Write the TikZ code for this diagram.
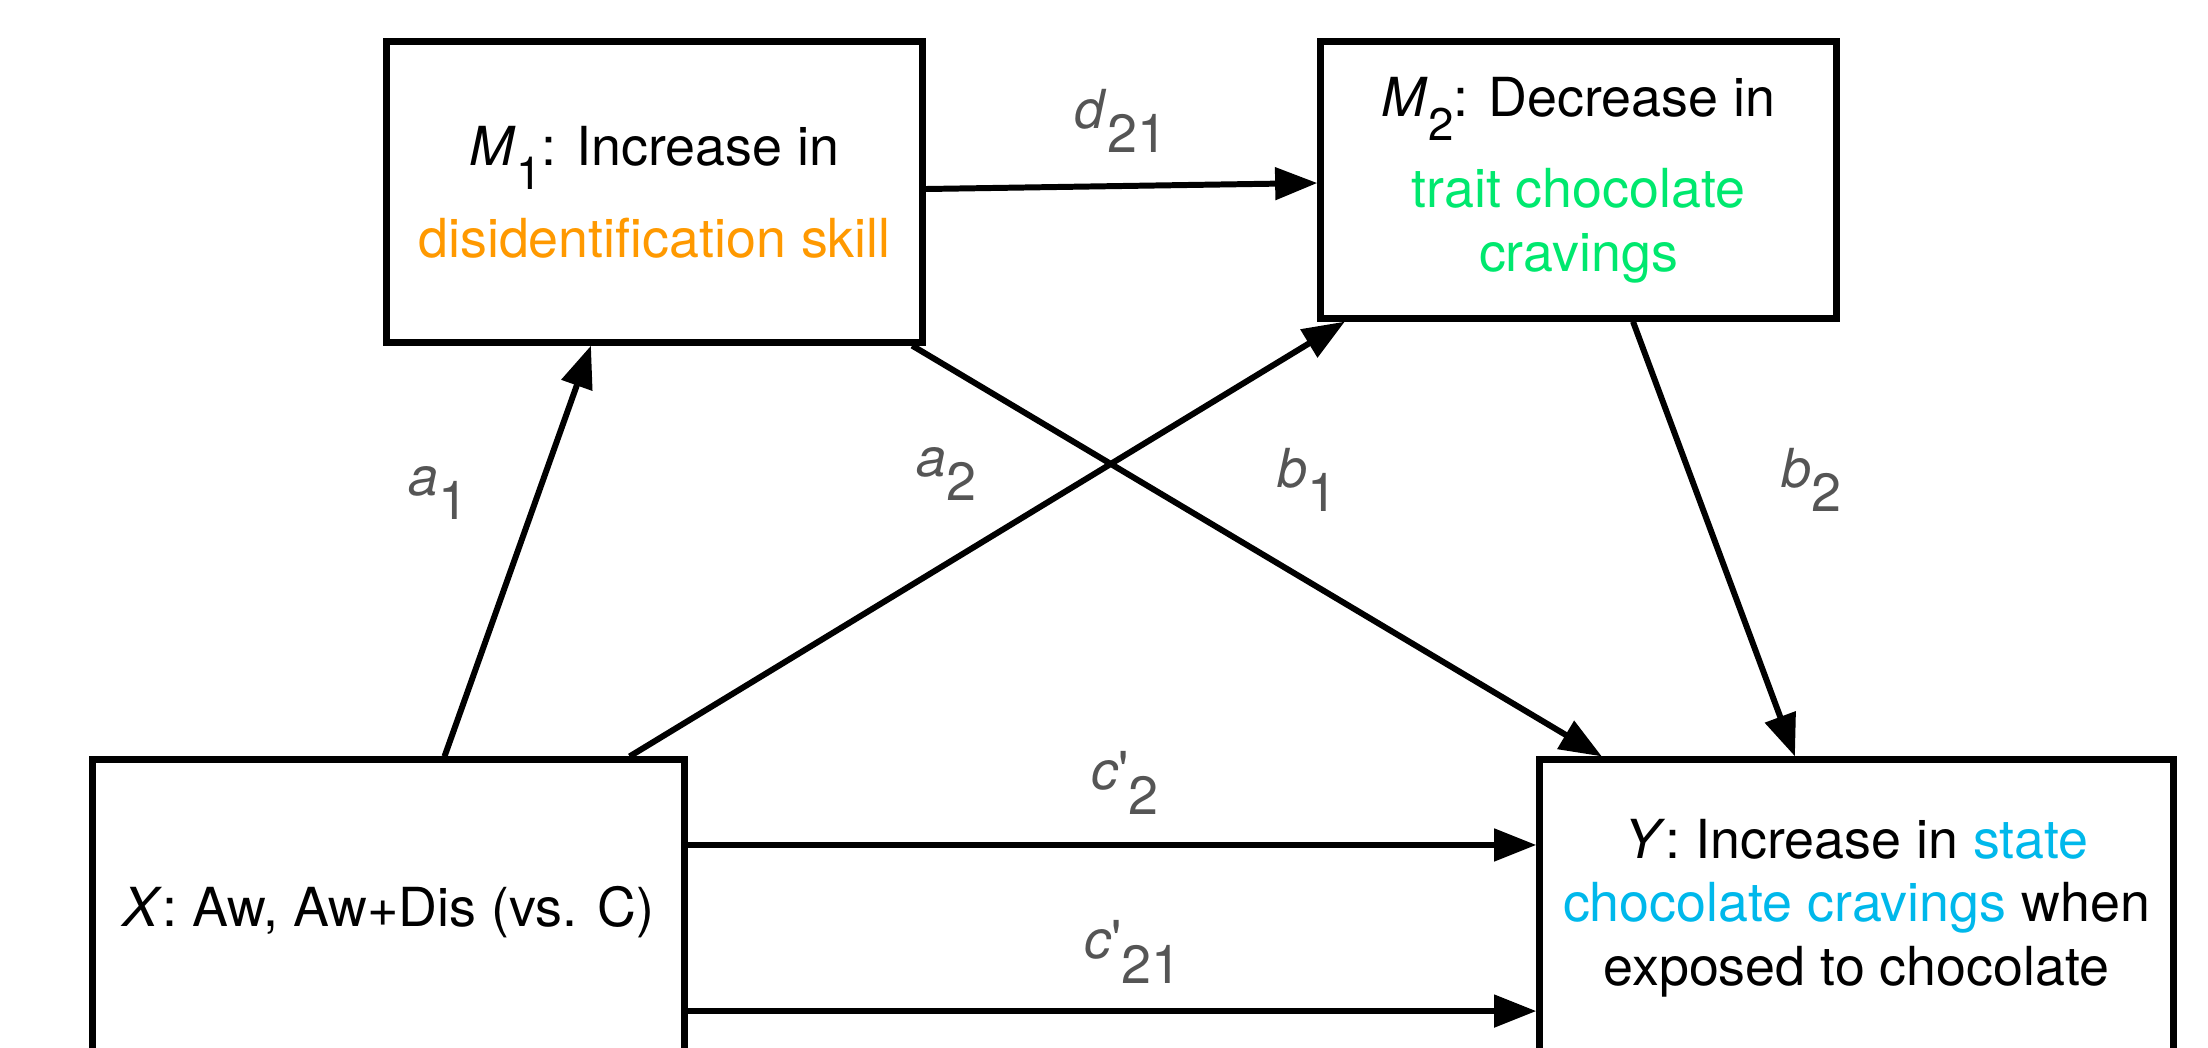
\documentclass[tikz,border=0pt]{standalone}
\usepackage{fontspec}
\setmainfont{TeX Gyre Heros}
\usepackage{xcolor}
\usetikzlibrary{arrows.meta,positioning}

\definecolor{skillorange}{RGB}{255,153,0}
\definecolor{traitgreen}{RGB}{0,232,110}
\definecolor{stateblue}{RGB}{0,184,235}
\definecolor{labgray}{RGB}{85,85,85}

% path label: italic letter, lowered index
\newcommand{\coef}[2]{\textit{#1}\raisebox{-0.45em}{#2}}
% same, primed
\newcommand{\pcoef}[2]{\textit{#1}\textquotesingle\raisebox{-0.45em}{#2}}
% variable name in a box
\newcommand{\vname}[2]{\textit{#1}\raisebox{-0.45em}{\fontsize{13}{13}\selectfont #2}}

\begin{document}
\begin{tikzpicture}[
    x=0.01cm, y=-0.01cm,
    box/.style={
      draw,
      line width=2pt,
      align=center,
      inner sep=0pt,
      font=\fontsize{15.3}{18}\selectfont
    },
    arr/.style={
      -{Triangle[length=12pt,width=9pt]},
      line width=1.7pt
    },
    coef/.style={
      text=labgray,
      font=\fontsize{15.3}{18}\selectfont
    }
    ]
    \clip (0,0) rectangle (2208,1047);

    \node[box,minimum width=5.35cm,minimum height=3cm] at (654.5,192)
      (m1) {\vname{M}{1}: Increase in\\[7pt]
            \textcolor{skillorange}{disidentification skill}};
    \node[box,minimum width=5.15cm,minimum height=2.76cm] at (1578.5,180)
      (m2) {\vname{M}{2}: Decrease in\\[7pt]
            \textcolor{traitgreen}{trait chocolate}\\
            \textcolor{traitgreen}{cravings}};
    \node[box,minimum width=5.91cm,minimum height=3.04cm] at (388.5,912)
      (xvar) {\textit{X}: Aw, Aw+Dis (vs. C)};
    \node[box,minimum width=6.33cm,minimum height=2.96cm] at (1856.5,908)
      (yvar) {\textit{Y}: Increase in \textcolor{stateblue}{state}\\
              \textcolor{stateblue}{chocolate cravings} when\\
              exposed to chocolate};

    \draw[arr] ([xshift=0.56cm]xvar.north) -- ([xshift=-0.635cm]m1.south);
    \draw[arr] ([xshift=2.41cm]xvar.north) -- ([xshift=-2.335cm]m2.south);
    \draw[arr] ([yshift=0.03cm]m1.east) -- ([yshift=-0.03cm]m2.west);
    \draw[arr] ([xshift=2.575cm]m1.south) -- ([xshift=-2.545cm]yvar.north);
    \draw[arr] ([xshift=0.545cm]m2.south) -- ([xshift=-0.615cm]yvar.north);
    \draw[arr] ([yshift=0.67cm]xvar.east) -- ([yshift=0.67cm]xvar.east -| yvar.west);
    \draw[arr] ([yshift=-0.99cm]xvar.east) -- ([yshift=-0.99cm]xvar.east -| yvar.west);

    \node[coef] at (438,493) (la1) {\coef{a}{1}};
    \node[coef] at (946,474) (la2) {\coef{a}{2}};
    \node[coef] at (1307,480) (lb1) {\coef{b}{1}};
    \node[coef] at (1811,480) (lb2) {\coef{b}{2}};
    \node[coef] at (1121,121) (ld21) {\coef{d}{21}};
    \node[coef] at (1125,783) (lc2) {\pcoef{c}{2}};
    \node[coef] at (1133,952) (lc21) {\pcoef{c}{21}};
\end{tikzpicture}
\end{document}
